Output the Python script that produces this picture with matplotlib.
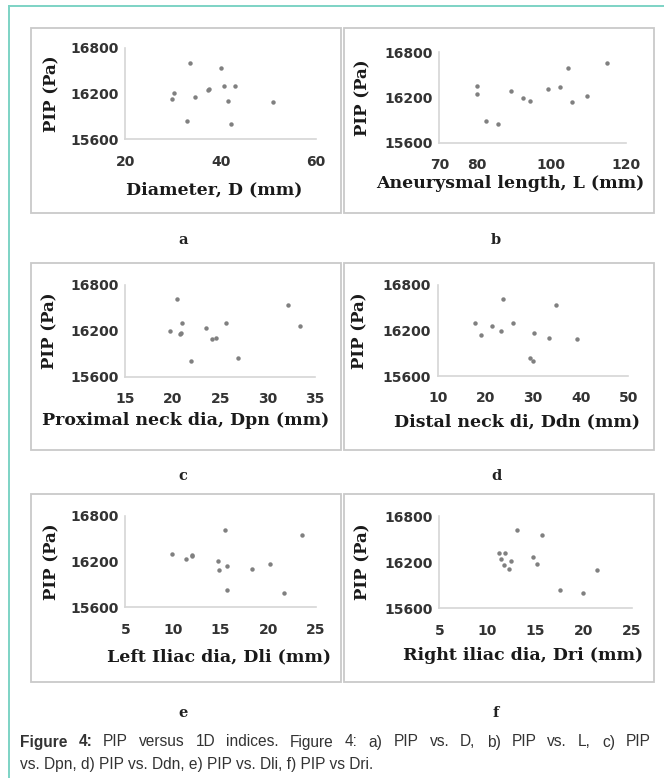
import matplotlib
matplotlib.use('Agg')
import matplotlib.pyplot as plt
from matplotlib.patches import Rectangle
from matplotlib.lines import Line2D

W, H = 664, 778

# ------------------------------------------------------------
# dados (PIP em Pa)
# ------------------------------------------------------------
diam = [33.5, 40.0, 30.3, 29.8, 34.7, 37.3, 37.6, 40.8, 43.0, 41.5, 51.0, 33.0, 42.1]
pip_diam = [16595, 16534, 16202, 16132, 16159, 16246, 16259, 16294, 16294, 16102, 16089, 15836, 15801]

length = [80.1, 80.1, 82.6, 85.6, 89.1, 92.3, 94.3, 99.2, 102.3, 104.4, 105.6, 109.6, 114.8]
pip_length = [16348, 16251, 15888, 15848, 16286, 16189, 16153, 16313, 16344, 16592, 16140, 16215, 16654]

dpn = [20.48, 20.94, 19.75, 20.76, 20.9, 23.47, 24.17, 24.53, 25.6, 21.96, 26.88, 32.12, 33.42]
pip_dpn = [16612, 16298, 16202, 16158, 16172, 16237, 16097, 16106, 16298, 15805, 15844, 16543, 16263]

ddn = [17.76, 19.02, 21.47, 23.22, 23.78, 25.73, 30.2, 29.44, 29.93, 33.43, 34.76, 39.16]
pip_ddn = [16294, 16136, 16255, 16198, 16611, 16294, 16163, 15837, 15802, 16101, 16541, 16088]

dli = [9.86, 11.36, 12.03, 12.03, 14.72, 14.83, 15.49, 15.7, 15.7, 18.25, 20.17, 21.68, 23.5]
pip_dli = [16298, 16237, 16272, 16285, 16202, 16089, 16612, 16141, 15827, 16106, 16167, 15792, 16551]

dri = [11.24, 11.83, 11.41, 11.76, 12.24, 12.49, 13.04, 14.74, 15.12, 15.64, 17.51, 19.9, 21.36]
pip_dri = [16315, 16315, 16241, 16159, 16111, 16215, 16618, 16271, 16176, 16557, 15843, 15804, 16103]

yticks = [15600, 16200, 16800]
letras = ['a', 'b', 'c', 'd', 'e', 'f']
xlabels = ['Diameter, D (mm)', 'Aneurysmal length, L (mm)', 'Proximal neck dia, Dpn (mm)',
           'Distal neck di, Ddn (mm)', 'Left Iliac dia, Dli (mm)', 'Right iliac dia, Dri (mm)']
xlims = [(20, 60), (70, 120), (15, 35), (10, 50), (5, 25), (5, 25)]
xticks = [[20, 40, 60], [70, 80, 100, 120], [15, 20, 25, 30, 35],
          [10, 20, 30, 40, 50], [5, 10, 15, 20, 25], [5, 10, 15, 20, 25]]
series = [(diam, pip_diam), (length, pip_length), (dpn, pip_dpn),
          (ddn, pip_ddn), (dli, pip_dli), (dri, pip_dri)]

caption_1 = 'Figure 4: PIP versus 1D indices. Figure 4: a) PIP vs. D, b) PIP vs. L, c) PIP'
caption_2 = 'vs. Dpn, d) PIP vs. Ddn, e) PIP vs. Dli, f) PIP vs Dri.'

# layout em pixels: caixa, eixo (x0, x1, y_topo, y_base), pos. dos rótulos
boxes = [(31, 28, 341, 213), (344, 28, 654, 213),
         (31, 263, 341, 450), (344, 263, 654, 450),
         (31, 494, 341, 682), (344, 494, 654, 682)]
axes_px = [(125.3, 316, 47.7, 139.3), (439.3, 626, 52.3, 142.7),
           (125.3, 315, 285, 376.7), (437.7, 628.3, 285, 376),
           (125.3, 316, 515.7, 607.3), (439.3, 631.7, 516, 608.3)]
ylab_x = [51.7, 363, 50, 360, 51.7, 363]
xlab_x = [214, 510, 186, 517, 219, 523]
xlab_y = [190, 184, 421, 421.7, 657, 655]
letra_y = [240, 240, 476, 476, 713, 713]


def fx(x):
    return x / W


def fy(y):
    return 1 - y / H


fig = plt.figure(figsize=(W / 100, H / 100), dpi=100)

# moldura teal (topo e esquerda)
teal = '#7dd3c5'
fig.add_artist(Line2D([fx(9), 1], [fy(6), fy(6)], color=teal, lw=1.4, transform=fig.transFigure))
fig.add_artist(Line2D([fx(9), fx(9)], [fy(6), 0], color=teal, lw=1.4, transform=fig.transFigure))

for i in range(6):
    bx0, by0, bx1, by1 = boxes[i]
    fig.add_artist(Rectangle((fx(bx0), fy(by1)), fx(bx1 - bx0), (by1 - by0) / H,
                             fill=False, ec='#c9c9c9', lw=1.3, transform=fig.transFigure))

    x0, x1, yt, yb = axes_px[i]
    ax = fig.add_axes([fx(x0), fy(yb), fx(x1 - x0), (yb - yt) / H])
    xs, ys = series[i]
    ax.plot(xs, ys, 'o', ms=3.2, color='#808080', mec='none')
    ax.set_xlim(*xlims[i])
    ax.set_ylim(15600, 16800)
    ax.set_xticks(xticks[i])
    ax.set_yticks(yticks)
    for s in ['top', 'right']:
        ax.spines[s].set_visible(False)
    for s in ['left', 'bottom']:
        ax.spines[s].set_color('#d6d6d6')
        ax.spines[s].set_linewidth(1.2)
    ax.tick_params(length=0, labelsize=10, labelcolor='#333333')
    ax.tick_params(axis='x', pad=11)
    ax.tick_params(axis='y', pad=5)
    for lb in ax.get_xticklabels() + ax.get_yticklabels():
        lb.set_fontweight('bold')
    ax.patch.set_alpha(0)

    bxc = (bx0 + bx1) / 2
    fig.text(fx(xlab_x[i]), fy(xlab_y[i]), xlabels[i], ha='center', va='center',
             family='DejaVu Serif', weight='bold', fontsize=12.5, color='#1a1a1a')
    fig.text(fx(ylab_x[i]), fy((yt + yb) / 2), 'PIP (Pa)', ha='center', va='center',
             rotation=90, family='DejaVu Serif', weight='bold', fontsize=12, color='#1a1a1a')
    fig.text(fx(bxc - 3), fy(letra_y[i]), letras[i], ha='center', va='center',
             family='DejaVu Serif', weight='bold', fontsize=10.5, color='#222222')

# legenda da figura - primeira linha justificada
cap_font = 'Liberation Sans'
cap_size = 11.2
renderer = fig.canvas.get_renderer()
palavras = caption_1.split(' ')
objs = []
for k, p in enumerate(palavras):
    t = fig.text(0, fy(746.5), p, ha='left', va='baseline', family=cap_font,
                 weight='bold' if k < 2 else 'normal', fontsize=cap_size, color='#333333')
    objs.append(t)
larg = [t.get_window_extent(renderer).width for t in objs]
gap = (651 - 20 - sum(larg)) / (len(objs) - 1)
xpos = 20
for t, w in zip(objs, larg):
    t.set_x(fx(xpos))
    xpos += w + gap
fig.text(fx(20), fy(768.5), caption_2, ha='left', va='baseline',
         family=cap_font, fontsize=cap_size, color='#333333')

fig.savefig('out.png', dpi=100)
print('ok')
